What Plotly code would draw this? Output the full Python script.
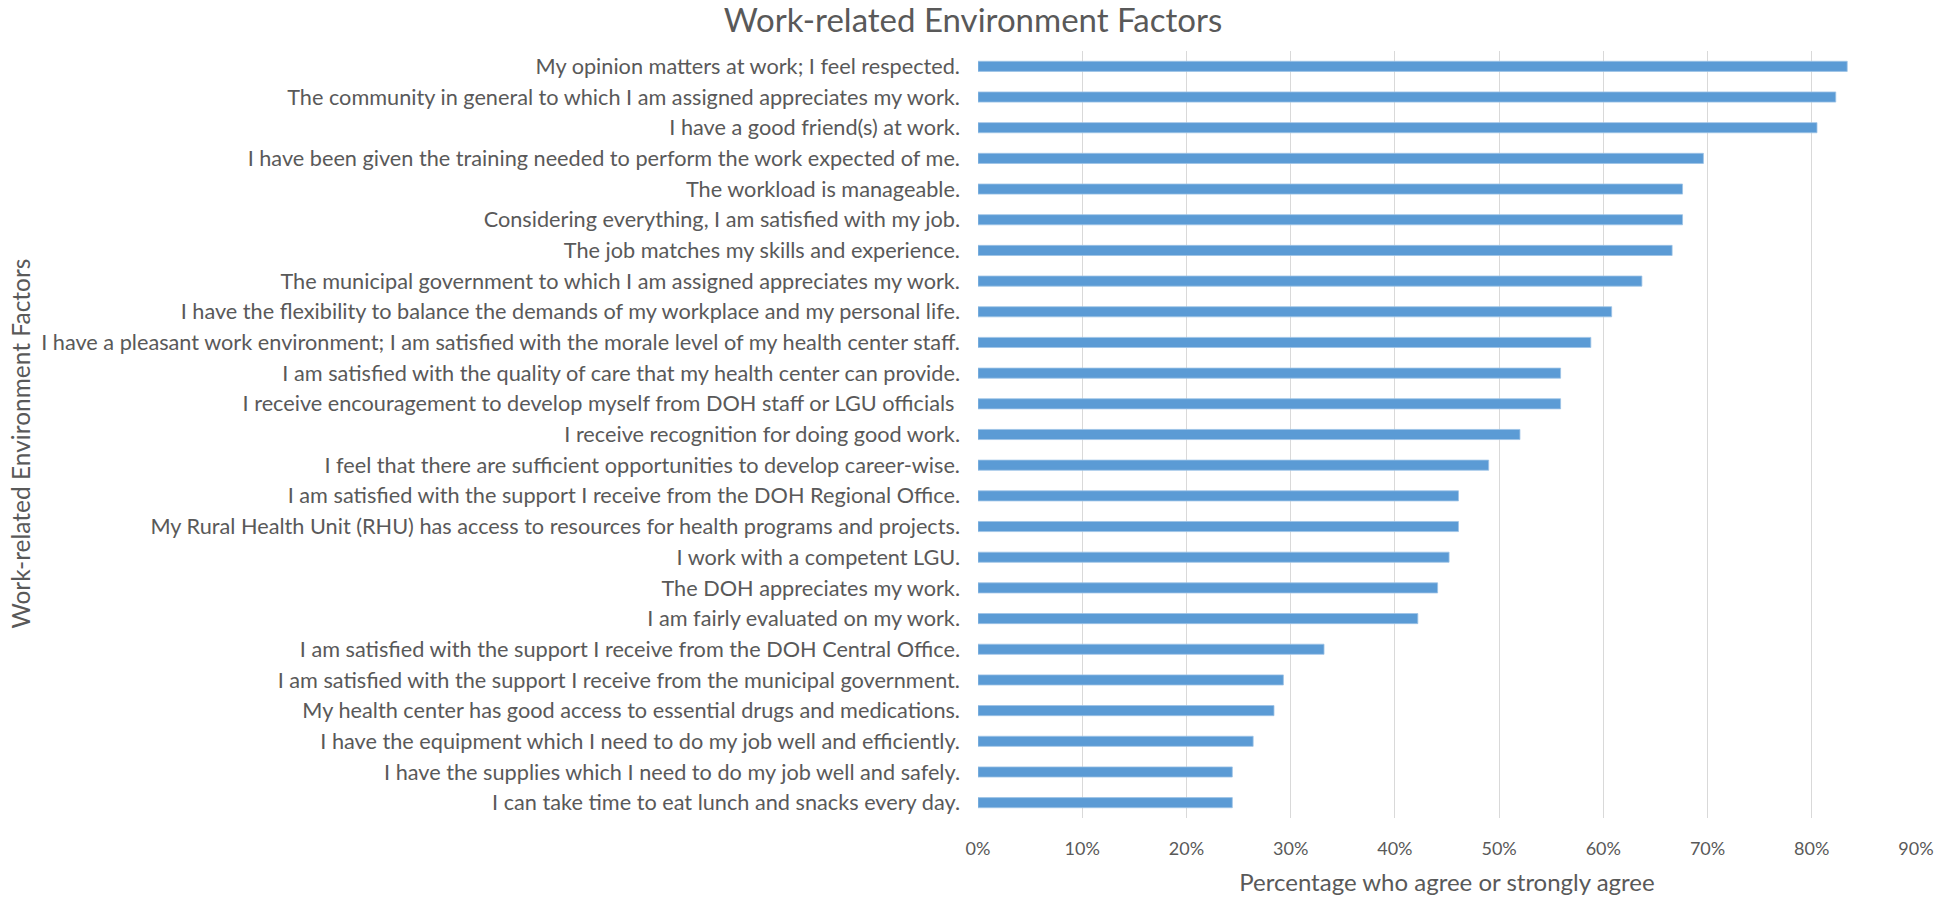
import plotly.graph_objects as go

factors = [
    "My opinion matters at work; I feel respected.",
    "The community in general to which I am assigned appreciates my work.",
    "I have a good friend(s) at work.",
    "I have been given the training needed to perform the work expected of me.",
    "The workload is manageable.",
    "Considering everything, I am satisfied with my job.",
    "The job matches my skills and experience.",
    "The municipal government to which I am assigned appreciates my work.",
    "I have the flexibility to balance the demands of my workplace and my personal life.",
    "I have a pleasant work environment; I am satisfied with the morale level of my health center staff.",
    "I am satisfied with the quality of care that my health center can provide.",
    "I receive encouragement to develop myself from DOH staff or LGU officials\u00a0",
    "I receive recognition for doing good work.",
    "I feel that there are sufficient opportunities to develop career-wise.",
    "I am satisfied with the support I receive from the DOH Regional Office.",
    "My Rural Health Unit (RHU) has access to resources for health programs and projects.",
    "I work with a competent LGU.",
    "The DOH appreciates my work.",
    "I am fairly evaluated on my work.",
    "I am satisfied with the support I receive from the DOH Central Office.",
    "I am satisfied with the support I receive from the municipal government.",
    "My health center has good access to essential drugs and medications.",
    "I have the equipment which I need to do my job well and efficiently.",
    "I have the supplies which I need to do my job well and safely.",
    "I can take time to eat lunch and snacks every day.",
]

pct_agree = [
    0.834, 0.823, 0.805, 0.696, 0.676, 0.676, 0.666, 0.637, 0.608, 0.588,
    0.559, 0.559, 0.520, 0.490, 0.461, 0.461, 0.452, 0.441, 0.422, 0.332,
    0.293, 0.284, 0.264, 0.244, 0.244,
]

x_ticks = [0, 0.1, 0.2, 0.3, 0.4, 0.5, 0.6, 0.7, 0.8, 0.9]
x_tick_labels = ["0%", "10%", "20%", "30%", "40%", "50%", "60%", "70%", "80%", "90%"]

FONT = "Lato, Open Sans, sans-serif"
TXT = "#595959"

fig = go.Figure(go.Bar(
    x=pct_agree, y=factors, orientation="h",
    marker=dict(color="#5B9BD5", line=dict(color="#9DC3E6", width=0.8)),
))

W, H = 1946, 904
ml, mr, mt, mb = 978, 24, 51, 83

fig.update_layout(
    width=W, height=H,
    margin=dict(l=ml, r=mr, t=mt, b=mb),
    paper_bgcolor="white", plot_bgcolor="white",
    bargap=0.67,
    showlegend=False,
    font=dict(family=FONT, color=TXT, size=21),
    title=dict(text="Work-related Environment Factors", xref="container", x=0.5,
               xanchor="center", yref="container", y=1 - 20 / H, yanchor="middle",
               font=dict(size=33, color=TXT, family=FONT)),
    xaxis=dict(range=[0, 0.9], tickvals=x_ticks, ticktext=x_tick_labels,
               showgrid=True, gridcolor="#D9D9D9", gridwidth=1.3, zeroline=False,
               showline=False, ticks="", tickfont=dict(size=18, color=TXT),
               ticklabelstandoff=18,
               title=dict(text="Percentage who agree or strongly agree",
                          font=dict(size=24, color=TXT), standoff=16)),
    yaxis=dict(categoryorder="array", categoryarray=factors, autorange="reversed",
               showgrid=False, showline=False, ticks="", automargin=False,
               tickfont=dict(size=21.7, color=TXT), ticklabelstandoff=17),
    annotations=[dict(text="Work-related Environment Factors", textangle=-90,
                      xref="paper", yref="paper",
                      x=(14 - ml) / (W - ml - mr), y=(H - mb - 445) / (H - mb - mt),
                      xanchor="center", yanchor="middle", showarrow=False,
                      font=dict(size=24.5, color=TXT, family=FONT))],
)

fig.write_html("out.html", config={"displayModeBar": False},
               post_script="document.body.style.margin='0';document.body.style.overflow='hidden';")
